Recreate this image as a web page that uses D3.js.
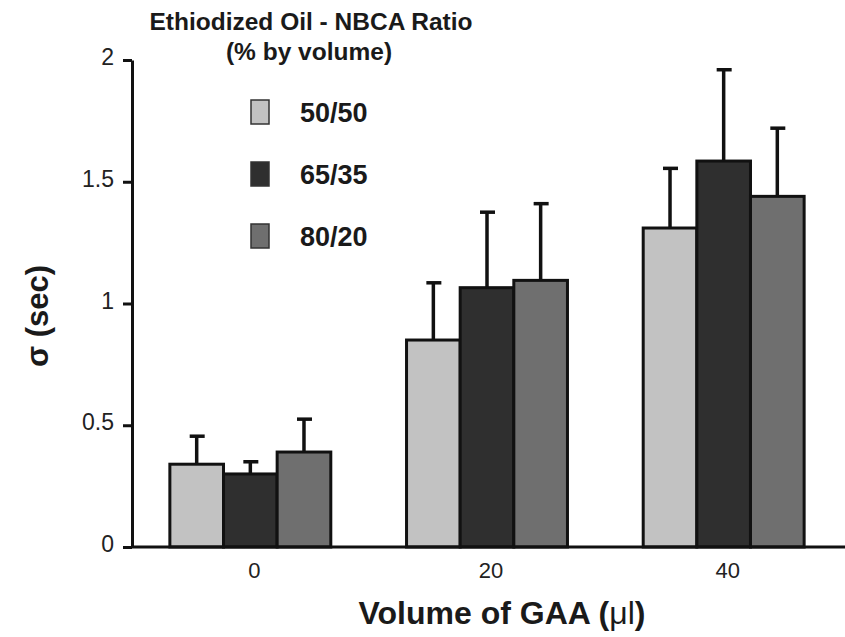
<!DOCTYPE html>
<html>
<head>
<meta charset="utf-8">
<script src="https://cdn.jsdelivr.net/npm/d3@7"></script>
<style>
    body { margin: 0; background: #fff; }
    svg { font-family: "Liberation Sans", Arial, sans-serif; }
</style>
</head>
<body>
<div id="chart"></div>
<script>
// data
const volumes = ["0", "20", "40"];
const ratios = ["50/50", "65/35", "80/20"];
const means = [
    [0.34, 0.30, 0.39],
    [0.85, 1.065, 1.095],
    [1.31, 1.585, 1.44]
];
const sds = [
    [0.115, 0.05, 0.135],
    [0.235, 0.31, 0.315],
    [0.245, 0.375, 0.28]
];
const yTicks = [0, 0.5, 1, 1.5, 2];
const fills = ["#c2c2c2", "#2f2f2f", "#6f6f6f"];

const W = 845, H = 637;
const svg = d3.select("#chart").append("svg")
    .attr("width", W)
    .attr("height", H);

// scales
const y = d3.scaleLinear().domain([0, 2]).range([547, 60]);
const x0 = d3.scaleBand().domain(volumes).range([132, 842])
    .paddingInner(0.32).paddingOuter(0.16);
const x1 = d3.scaleBand().domain(ratios).range([0, x0.bandwidth()]).padding(0);

// flatten for drawing
let rows = [];
volumes.forEach((v, i) => ratios.forEach((r, j) => {
    rows.push({vol: v, ratio: r, j: j, mean: means[i][j], sd: sds[i][j]});
}));

const cx = d => x0(d.vol) + x1(d.ratio) + x1.bandwidth() / 2;

// error bars (upper only), drawn before bars
const eb = svg.append("g").attr("class", "errbars");
eb.selectAll("line.stem").data(rows).enter().append("line")
    .attr("class", "stem")
    .attr("x1", cx).attr("x2", cx)
    .attr("y1", d => y(d.mean))
    .attr("y2", d => y(d.mean + d.sd))
    .attr("stroke", "#111").attr("stroke-width", 3.5);
eb.selectAll("line.cap").data(rows).enter().append("line")
    .attr("class", "cap")
    .attr("x1", d => cx(d) - 7)
    .attr("x2", d => cx(d) + 8)
    .attr("y1", d => y(d.mean + d.sd))
    .attr("y2", d => y(d.mean + d.sd))
    .attr("stroke", "#111").attr("stroke-width", 3.5);

// bars
svg.append("g").selectAll("rect").data(rows).enter().append("rect")
    .attr("x", d => x0(d.vol) + x1(d.ratio))
    .attr("y", d => y(d.mean))
    .attr("width", x1.bandwidth())
    .attr("height", d => y(0) - y(d.mean))
    .attr("fill", d => fills[d.j])
    .attr("stroke", "#111")
    .attr("stroke-width", 3);

// axes
const yAxis = d3.axisLeft(y).tickValues(yTicks).tickSize(9).tickSizeOuter(0)
    .tickPadding(9).tickFormat(d => String(d));
const gy = svg.append("g").attr("transform", "translate(132,0)").call(yAxis);
gy.select(".domain").attr("stroke", "#111").attr("stroke-width", 3);
gy.selectAll(".tick line").attr("stroke", "#111").attr("stroke-width", 3);
gy.selectAll(".tick text").attr("font-size", 23).attr("fill", "#222")
    .attr("dy", "0.2em")
    .attr("font-family", "Liberation Sans, Arial, sans-serif");

const xAxis = d3.axisBottom(x0).tickSize(0).tickSizeOuter(0).tickPadding(15);
const gx = svg.append("g").attr("transform", `translate(0,${y(0)})`).call(xAxis);
gx.select(".domain").attr("stroke", "#111").attr("stroke-width", 3)
    .attr("d", `M132,0H845`);
gx.selectAll(".tick text").attr("font-size", 22).attr("fill", "#222")
    .attr("dx", "4").attr("font-family", "Liberation Sans, Arial, sans-serif");

// axis titles
const xt = svg.append("text")
    .attr("x", 502).attr("y", 624)
    .attr("text-anchor", "middle")
    .attr("font-size", 32).attr("font-weight", "bold").attr("fill", "#1a1a1a");
xt.append("tspan").text("Volume of GAA (");
xt.append("tspan").attr("font-weight", "normal").text("\u03bcl");
xt.append("tspan").text(")");

svg.append("text")
    .attr("transform", "translate(48,316) rotate(-90)")
    .attr("text-anchor", "middle")
    .attr("font-size", 31).attr("font-weight", "bold").attr("fill", "#1a1a1a")
    .text("\u03c3 (sec)");

// legend
const leg = svg.append("g");
leg.append("text").attr("x", 311).attr("y", 30).attr("text-anchor", "middle")
    .attr("font-size", 24.5).attr("font-weight", "bold").attr("fill", "#1a1a1a")
    .text("Ethiodized Oil - NBCA Ratio");
leg.append("text").attr("x", 309).attr("y", 60).attr("text-anchor", "middle")
    .attr("font-size", 24.5).attr("font-weight", "bold").attr("fill", "#1a1a1a")
    .text("(% by volume)");

const legY = d3.scalePoint().domain(ratios).range([112, 236]);
leg.selectAll("rect").data(ratios).enter().append("rect")
    .attr("x", 251).attr("y", d => legY(d) - 12)
    .attr("width", 18).attr("height", 24)
    .attr("fill", (d, i) => fills[i])
    .attr("stroke", "#333").attr("stroke-width", 1.5);
leg.selectAll("text.lab").data(ratios).enter().append("text")
    .attr("class", "lab")
    .attr("x", 300).attr("y", d => legY(d) + 10)
    .attr("font-size", 27).attr("font-weight", "bold").attr("fill", "#1a1a1a")
    .text(d => d);
</script>
</body>
</html>
